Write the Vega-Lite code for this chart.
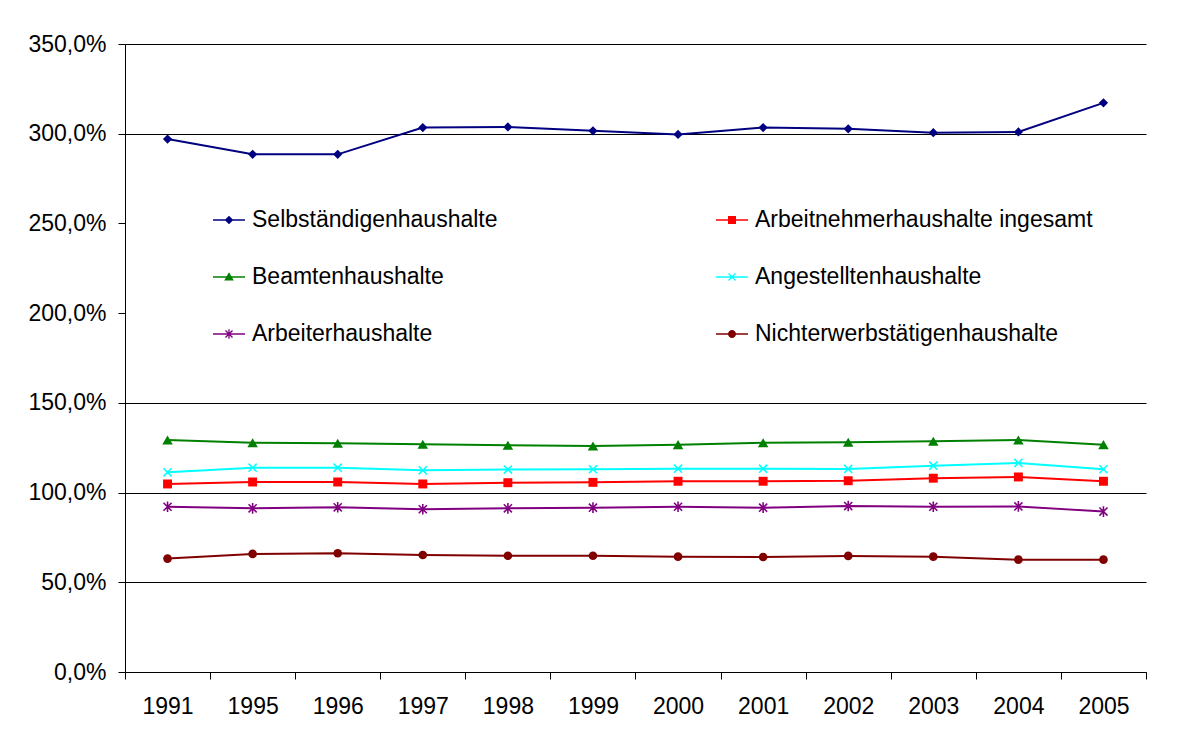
{
  "$schema": "https://vega.github.io/schema/vega-lite/v6.json",
  "width": 1021,
  "height": 628,
  "autosize": {"type": "none"},
  "padding": {"left": 125, "top": 44, "right": 41, "bottom": 68},
  "background": "white",
  "config": {"view": {"stroke": null}, "font": "Liberation Sans"},
  "data": {"values": [
    {"year": "1991", "series": "Selbständigenhaushalte", "value": 297.0},
    {"year": "1995", "series": "Selbständigenhaushalte", "value": 288.5},
    {"year": "1996", "series": "Selbständigenhaushalte", "value": 288.5},
    {"year": "1997", "series": "Selbständigenhaushalte", "value": 303.4},
    {"year": "1998", "series": "Selbständigenhaushalte", "value": 303.8},
    {"year": "1999", "series": "Selbständigenhaushalte", "value": 301.6},
    {"year": "2000", "series": "Selbständigenhaushalte", "value": 299.6},
    {"year": "2001", "series": "Selbständigenhaushalte", "value": 303.4},
    {"year": "2002", "series": "Selbständigenhaushalte", "value": 302.7},
    {"year": "2003", "series": "Selbständigenhaushalte", "value": 300.6},
    {"year": "2004", "series": "Selbständigenhaushalte", "value": 301.0},
    {"year": "2005", "series": "Selbständigenhaushalte", "value": 317.2},
    {"year": "1991", "series": "Arbeitnehmerhaushalte ingesamt", "value": 104.8},
    {"year": "1995", "series": "Arbeitnehmerhaushalte ingesamt", "value": 105.9},
    {"year": "1996", "series": "Arbeitnehmerhaushalte ingesamt", "value": 105.9},
    {"year": "1997", "series": "Arbeitnehmerhaushalte ingesamt", "value": 104.8},
    {"year": "1998", "series": "Arbeitnehmerhaushalte ingesamt", "value": 105.5},
    {"year": "1999", "series": "Arbeitnehmerhaushalte ingesamt", "value": 105.7},
    {"year": "2000", "series": "Arbeitnehmerhaushalte ingesamt", "value": 106.3},
    {"year": "2001", "series": "Arbeitnehmerhaushalte ingesamt", "value": 106.3},
    {"year": "2002", "series": "Arbeitnehmerhaushalte ingesamt", "value": 106.6},
    {"year": "2003", "series": "Arbeitnehmerhaushalte ingesamt", "value": 108.0},
    {"year": "2004", "series": "Arbeitnehmerhaushalte ingesamt", "value": 108.7},
    {"year": "2005", "series": "Arbeitnehmerhaushalte ingesamt", "value": 106.3},
    {"year": "1991", "series": "Beamtenhaushalte", "value": 129.3},
    {"year": "1995", "series": "Beamtenhaushalte", "value": 127.8},
    {"year": "1996", "series": "Beamtenhaushalte", "value": 127.5},
    {"year": "1997", "series": "Beamtenhaushalte", "value": 126.9},
    {"year": "1998", "series": "Beamtenhaushalte", "value": 126.4},
    {"year": "1999", "series": "Beamtenhaushalte", "value": 126.0},
    {"year": "2000", "series": "Beamtenhaushalte", "value": 126.7},
    {"year": "2001", "series": "Beamtenhaushalte", "value": 127.8},
    {"year": "2002", "series": "Beamtenhaushalte", "value": 128.0},
    {"year": "2003", "series": "Beamtenhaushalte", "value": 128.6},
    {"year": "2004", "series": "Beamtenhaushalte", "value": 129.3},
    {"year": "2005", "series": "Beamtenhaushalte", "value": 126.7},
    {"year": "1991", "series": "Angestelltenhaushalte", "value": 111.3},
    {"year": "1995", "series": "Angestelltenhaushalte", "value": 113.9},
    {"year": "1996", "series": "Angestelltenhaushalte", "value": 113.9},
    {"year": "1997", "series": "Angestelltenhaushalte", "value": 112.4},
    {"year": "1998", "series": "Angestelltenhaushalte", "value": 112.8},
    {"year": "1999", "series": "Angestelltenhaushalte", "value": 113.0},
    {"year": "2000", "series": "Angestelltenhaushalte", "value": 113.3},
    {"year": "2001", "series": "Angestelltenhaushalte", "value": 113.3},
    {"year": "2002", "series": "Angestelltenhaushalte", "value": 113.2},
    {"year": "2003", "series": "Angestelltenhaushalte", "value": 115.0},
    {"year": "2004", "series": "Angestelltenhaushalte", "value": 116.5},
    {"year": "2005", "series": "Angestelltenhaushalte", "value": 113.0},
    {"year": "1991", "series": "Arbeiterhaushalte", "value": 92.1},
    {"year": "1995", "series": "Arbeiterhaushalte", "value": 91.2},
    {"year": "1996", "series": "Arbeiterhaushalte", "value": 91.8},
    {"year": "1997", "series": "Arbeiterhaushalte", "value": 90.7},
    {"year": "1998", "series": "Arbeiterhaushalte", "value": 91.2},
    {"year": "1999", "series": "Arbeiterhaushalte", "value": 91.6},
    {"year": "2000", "series": "Arbeiterhaushalte", "value": 92.1},
    {"year": "2001", "series": "Arbeiterhaushalte", "value": 91.6},
    {"year": "2002", "series": "Arbeiterhaushalte", "value": 92.5},
    {"year": "2003", "series": "Arbeiterhaushalte", "value": 92.1},
    {"year": "2004", "series": "Arbeiterhaushalte", "value": 92.3},
    {"year": "2005", "series": "Arbeiterhaushalte", "value": 89.4},
    {"year": "1991", "series": "Nichterwerbstätigenhaushalte", "value": 63.2},
    {"year": "1995", "series": "Nichterwerbstätigenhaushalte", "value": 65.8},
    {"year": "1996", "series": "Nichterwerbstätigenhaushalte", "value": 66.2},
    {"year": "1997", "series": "Nichterwerbstätigenhaushalte", "value": 65.2},
    {"year": "1998", "series": "Nichterwerbstätigenhaushalte", "value": 64.8},
    {"year": "1999", "series": "Nichterwerbstätigenhaushalte", "value": 64.8},
    {"year": "2000", "series": "Nichterwerbstätigenhaushalte", "value": 64.3},
    {"year": "2001", "series": "Nichterwerbstätigenhaushalte", "value": 64.1},
    {"year": "2002", "series": "Nichterwerbstätigenhaushalte", "value": 64.7},
    {"year": "2003", "series": "Nichterwerbstätigenhaushalte", "value": 64.3},
    {"year": "2004", "series": "Nichterwerbstätigenhaushalte", "value": 62.6},
    {"year": "2005", "series": "Nichterwerbstätigenhaushalte", "value": 62.6}
  ]},
  "encoding": {
    "x": {
      "field": "year", "type": "ordinal",
      "sort": ["1991","1995","1996","1997","1998","1999","2000","2001","2002","2003","2004","2005"],
      "scale": {"type": "band", "paddingInner": 0, "paddingOuter": 0},
      "axis": {"title": null, "labelAngle": 0, "tickBand": "extent", "grid": false, "tickSize": 7, "labelPadding": 16, "labelFontSize": 23, "labelFont": "Liberation Sans", "labelColor": "black", "domainColor": "black", "tickColor": "black"}
    },
    "y": {
      "field": "value", "type": "quantitative",
      "scale": {"domain": [0, 350], "nice": false},
      "axis": {"title": null, "values": [0,50,100,150,200,250,300,350], "labelExpr": "replace(format(datum.value, '.1f'), '.', ',') + '%'", "labelFontSize": 23, "labelFont": "Liberation Sans", "labelColor": "black", "tickSize": 7, "labelPadding": 12, "tickColor": "black", "domainColor": "black", "gridColor": "black", "gridOpacity": {"condition": {"test": "datum.value === 200 || datum.value === 250", "value": 0}, "value": 1}, "gridWidth": 1}
    }
  },
  "layer": [
    {
      "transform": [{"filter": "datum.series === 'Selbständigenhaushalte'"}],
      "mark": {"type": "line", "color": "#000080", "strokeWidth": 2, "point": {"filled": true, "color": "#000080", "opacity": 1, "size": 85, "shape": "diamond"}}
    },
    {
      "transform": [{"filter": "datum.series === 'Arbeitnehmerhaushalte ingesamt'"}],
      "mark": {"type": "line", "color": "#FF0000", "strokeWidth": 2, "point": {"filled": true, "color": "#FF0000", "opacity": 1, "size": 80, "shape": "square"}}
    },
    {
      "transform": [{"filter": "datum.series === 'Beamtenhaushalte'"}],
      "mark": {"type": "line", "color": "#008000", "strokeWidth": 2, "point": {"filled": true, "color": "#008000", "opacity": 1, "size": 110, "shape": "triangle-up"}}
    },
    {
      "transform": [{"filter": "datum.series === 'Angestelltenhaushalte'"}],
      "mark": {"type": "line", "color": "#00FFFF", "strokeWidth": 2, "point": {"filled": true, "color": "#00FFFF", "opacity": 1, "size": 85, "shape": "M-1,-0.76L-0.76,-1L1,0.76L0.76,1Z M-1,0.76L0.76,-1L1,-0.76L-0.76,1Z"}}
    },
    {
      "transform": [{"filter": "datum.series === 'Arbeiterhaushalte'"}],
      "mark": {"type": "line", "color": "#800080", "strokeWidth": 2, "point": {"filled": true, "color": "#800080", "opacity": 1, "size": 85, "shape": "M-1,-0.76L-0.76,-1L1,0.76L0.76,1Z M-1,0.76L0.76,-1L1,-0.76L-0.76,1Z M-0.17,-1.15L0.17,-1.15L0.17,1.15L-0.17,1.15Z"}}
    },
    {
      "transform": [{"filter": "datum.series === 'Nichterwerbstätigenhaushalte'"}],
      "mark": {"type": "line", "color": "#800000", "strokeWidth": 2, "point": {"filled": true, "color": "#800000", "opacity": 1, "size": 75, "shape": "circle"}}
    },
    {
      "transform": [{"filter": "datum.year === '1991'"}],
      "mark": {"type": "point", "filled": true, "opacity": 0},
      "encoding": {
        "color": {
          "field": "series", "type": "nominal",
          "scale": {"domain": ["Selbständigenhaushalte","Beamtenhaushalte","Arbeiterhaushalte","Arbeitnehmerhaushalte ingesamt","Angestelltenhaushalte","Nichterwerbstätigenhaushalte"], "range": ["#000080","#008000","#800080","#FF0000","#00FFFF","#800000"]},
          "legend": {"title": null, "orient": "none", "legendX": 88, "legendY": 160, "columns": 2, "columnPadding": 218, "rowPadding": 29, "padding": 0, "labelFontSize": 23, "labelFont": "Liberation Sans", "labelColor": "black", "labelOffset": 7, "labelLimit": 600, "symbolSize": 1024, "symbolOpacity": 1, "symbolStrokeWidth": 0}
        },
        "shape": {
          "field": "series", "type": "nominal",
          "scale": {
            "domain": ["Selbständigenhaushalte","Beamtenhaushalte","Arbeiterhaushalte","Arbeitnehmerhaushalte ingesamt","Angestelltenhaushalte","Nichterwerbstätigenhaushalte"],
            "range": [
              "M-1,-0.05L1,-0.05L1,0.05L-1,0.05Z M0,-0.27L0.27,0L0,0.27L-0.27,0Z",
              "M-1,-0.05L1,-0.05L1,0.05L-1,0.05Z M0,-0.3L0.3,0.22L-0.3,0.22Z",
              "M-1,-0.05L1,-0.05L1,0.05L-1,0.05Z M-0.25,-0.19L-0.19,-0.25L0.25,0.19L0.19,0.25Z M-0.25,0.19L0.19,-0.25L0.25,-0.19L-0.19,0.25Z M-0.04,-0.3L0.04,-0.3L0.04,0.3L-0.04,0.3Z",
              "M-1,-0.05L1,-0.05L1,0.05L-1,0.05Z M-0.25,-0.25L0.25,-0.25L0.25,0.25L-0.25,0.25Z",
              "M-1,-0.05L1,-0.05L1,0.05L-1,0.05Z M-0.25,-0.19L-0.19,-0.25L0.25,0.19L0.19,0.25Z M-0.25,0.19L0.19,-0.25L0.25,-0.19L-0.19,0.25Z",
              "M-1,-0.05L1,-0.05L1,0.05L-1,0.05Z M0.25,0A0.25,0.25,0,1,1,-0.25,0A0.25,0.25,0,1,1,0.25,0Z"
            ]
          },
          "legend": {"title": null, "orient": "none", "legendX": 88, "legendY": 160, "columns": 2, "columnPadding": 218, "rowPadding": 29, "padding": 0, "labelFontSize": 23, "labelFont": "Liberation Sans", "labelColor": "black", "labelOffset": 7, "labelLimit": 600, "symbolSize": 1024, "symbolOpacity": 1, "symbolStrokeWidth": 0}
        }
      }
    }
  ]
}
